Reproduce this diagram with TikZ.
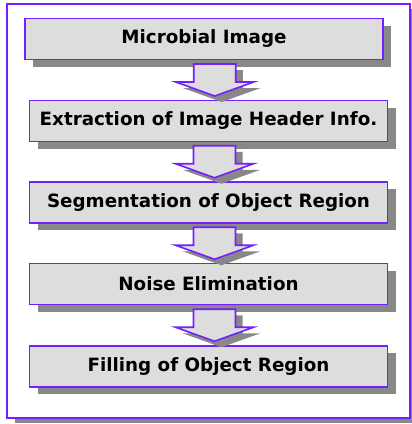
\documentclass[tikz,border=0pt]{standalone}
\usepackage{fontspec}
\setmainfont{DejaVu Sans}
\usepackage{tikz}
\usetikzlibrary{calc,shadows}

\definecolor{linea}{RGB}{118,30,255}
\definecolor{relleno}{RGB}{221,221,221}
\definecolor{sombra}{RGB}{136,136,136}

\begin{document}
\begin{tikzpicture}[x=1pt, y=-1pt,
	paso/.style={draw=linea, line width=1.6pt, fill=relleno,
		minimum width=358pt, minimum height=41pt, inner sep=0pt,
		font=\fontsize{18.3}{20}\selectfont\bfseries,
		drop shadow={shadow xshift=8pt, shadow yshift=-7pt, fill=sombra, opacity=1}},
	flecha/.pic={
		\fill[sombra, shift={(7,6)}] (-21,-16) -- (21,-16) -- (21,2) -- (39,2) -- (0,16) -- (-39,2) -- (-21,2) -- cycle;
		\draw[linea, line width=1.6pt, fill=relleno] (-21,-16) -- (21,-16) -- (21,2) -- (39,2) -- (0,16) -- (-39,2) -- (-21,2) -- cycle;
	}]
	
	% 1. Marco exterior (412 x 424)
	\useasboundingbox (0,0) rectangle (412,424);
	\draw[linea, line width=2pt, fill=white,
		drop shadow={shadow xshift=8pt, shadow yshift=-5pt, fill=sombra, opacity=1}]
		(7,4) rectangle (410,418);
	
	% 2. Cajas de los pasos
	\node[paso] (imagen)   at (204,39)      {Microbial Image};
	\node[paso] (cabecera) at (208.5,121)   {Extraction of Image Header Info.};
	\node[paso] (segmento) at (208.5,202.5) {Segmentation of Object Region};
	\node[paso] (ruido)    at (208.5,284)   {Noise Elimination};
	\node[paso] (llenado)  at (208.5,366.5) {Filling of Object Region};
	
	% 3. Flechas entre pasos
	\pic at ($(imagen.south)!0.5!(cabecera.north)+(8.5,0)$) {flecha};
	\pic at ($(cabecera.south)!0.5!(segmento.north)+(6,0)$) {flecha};
	\pic at ($(segmento.south)!0.5!(ruido.north)+(6,0)$) {flecha};
	\pic at ($(ruido.south)!0.5!(llenado.north)+(6,0)$) {flecha};
	
\end{tikzpicture}
\end{document}
